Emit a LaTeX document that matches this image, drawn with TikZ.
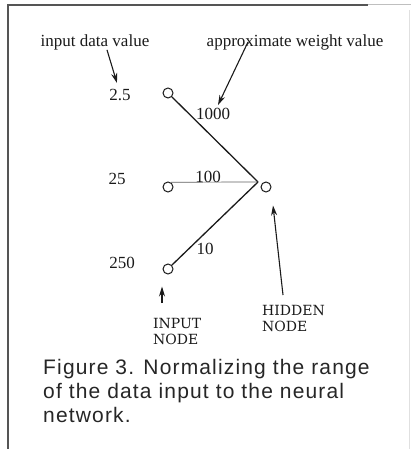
\documentclass[tikz,border=0pt]{standalone}
\usepackage{fontspec}
\setmainfont{Liberation Serif}
\newfontfamily\nodefont{DejaVu Serif}
\newfontfamily\capfont[LetterSpace=5.5]{Liberation Sans}
\usetikzlibrary{arrows.meta, positioning}
\definecolor{ink}{HTML}{1A1A1A}
\definecolor{frm}{HTML}{555555}
\definecolor{cap}{HTML}{262626}

\begin{document}
\begin{tikzpicture}[
      x=1pt, y=-1pt,
      font=\fontsize{17}{15}\selectfont,
      unit/.style={circle, draw=ink, line width=1pt, minimum size=10pt,
                   inner sep=0pt},
      wt/.style={ink, line width=1.3pt},
      wtl/.style={ink!70, line width=0.7pt},
      arr/.style={-{Stealth[length=10pt, width=6pt]}, ink, line width=1.1pt},
      lbl/.style={inner sep=0pt, text=ink},
      tag/.style={lbl, align=left, anchor=north west,
                  font=\nodefont\fontsize{14}{16}\selectfont},
    ]
    \useasboundingbox (0,0) rectangle (411,449);
    % frame
    \draw[frm, line width=1.2pt] (8,449) -- (8,5) -- (368,5);
    \draw[black!25, line width=1pt] (368,5) -- (411,5);
    \draw[black!12, line width=0.8pt] (409,10) -- (409,449);

    % input units and hidden unit
    \foreach \i/\y in {1/93, 2/187, 3/269}
      \node[unit] (in\i) at (168,\y) {};
    \node[unit] (hid) at (266,187) {};
    \coordinate (hub) at ([xshift=-2.5pt, yshift=5pt]hid.west);

    % data values
    \foreach \i/\x/\y/\t in {1/120/95/2.5, 2/117/179/25, 3/122/263/250}
      \node[lbl] (v\i) at (\x,\y) {\t};

    % weights
    \draw[wt] (in1.south east) -- (hub);
    \draw[wtl] (in2.60) -- (hub);
    \draw[wt] (in3.north east) -- (hub);
    \node[lbl] (w1) at (213,114) {1000};
    \node[lbl] (w2) at (208,177) {100};
    \node[lbl] (w3) at (205,249) {10};

    % callouts
    \node[lbl] (lblin) at (95,42) {input data value};
    \node[lbl] (lblwt) at (295,42) {approximate weight value};
    \draw[arr] ([xshift=12pt]lblin.south) -- ([xshift=-3pt, yshift=6pt]v1.north);
    \draw[arr] ([xshift=-47pt]lblwt.center) -- ([xshift=5pt, yshift=3pt]w1.north);

    \node[tag] (lblinp) at (153,318) {INPUT\\NODE};
    \node[tag] (lblhid) at (262,305) {HIDDEN\\NODE};
    \draw[arr] ([xshift=9pt, yshift=15pt]lblinp.north west)
      -- ([xshift=-6pt, yshift=-12pt]in3.south);
    \draw[arr] ([xshift=21pt, yshift=10pt]lblhid.north west)
      -- ([xshift=7pt, yshift=-13pt]hid.south);

    % caption
    \node[inner sep=0pt, align=left, anchor=north west, text=cap,
          font=\capfont\fontsize{21}{24}\selectfont] (caption) at (43,359)
      {Figure 3. Normalizing the range\\of the data input to the neural\\network.};
\end{tikzpicture}
\end{document}
